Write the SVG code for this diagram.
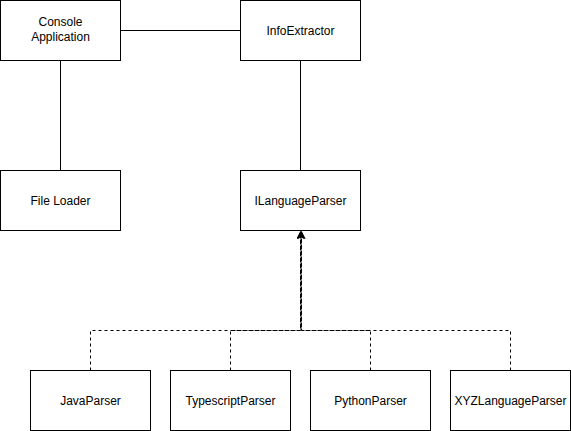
<svg xmlns="http://www.w3.org/2000/svg" width="571" height="431" viewBox="0 0 571 431">
<style>
.box{fill:#fff;stroke:#000;stroke-width:1}
.lbl{font-family:"Liberation Sans",Arial,sans-serif;font-size:12px;fill:#000;text-anchor:middle}
.solid{fill:none;stroke:#000;stroke-width:1}
.dash{fill:none;stroke:#000;stroke-width:1;stroke-dasharray:3 3}
</style>
<defs>
<marker id="arr" markerWidth="8" markerHeight="8" refX="7" refY="4" orient="auto" markerUnits="userSpaceOnUse">
<path d="M0,0 L8,4 L0,8 L2,4 Z" fill="#000"/>
</marker>
</defs>
<rect width="571" height="431" fill="#fff"/>
<g id="connectors">
<path class="solid" d="M120.5,30.5 L240.5,30.5"/>
<path class="solid" d="M60.5,60.5 L60.5,170.5"/>
<path class="solid" d="M300.5,60.5 L300.5,170.5"/>
<path class="dash" d="M90.5,370.5 L90.5,330.5 L300.5,330.5 L300.5,232" marker-end="url(#arr)"/>
<path class="dash" d="M230.5,370.5 L230.5,330.5 L300.5,330.5 L300.5,232" marker-end="url(#arr)"/>
<path class="dash" d="M370.5,370.5 L370.5,330.5 L301.5,330.5 L301.5,232" marker-end="url(#arr)"/>
<path class="dash" d="M510.5,370.5 L510.5,330.5 L301.5,330.5 L301.5,232" marker-end="url(#arr)"/>
</g>
<g id="console"><rect class="box" x="0.5" y="0.5" width="120" height="60"/><text class="lbl" x="60.5" y="26">Console</text><text class="lbl" x="60.5" y="41">Application</text></g>
<g id="infoextractor"><rect class="box" x="240.5" y="0.5" width="120" height="60"/><text class="lbl" x="300.5" y="35">InfoExtractor</text></g>
<g id="fileloader"><rect class="box" x="0.5" y="170.5" width="120" height="60"/><text class="lbl" x="60.5" y="205">File Loader</text></g>
<g id="ilanguageparser"><rect class="box" x="240.5" y="170.5" width="120" height="60"/><text class="lbl" x="300.5" y="205">ILanguageParser</text></g>
<g id="javaparser"><rect class="box" x="30.5" y="370.5" width="120" height="60"/><text class="lbl" x="90.5" y="405">JavaParser</text></g>
<g id="typescriptparser"><rect class="box" x="170.5" y="370.5" width="120" height="60"/><text class="lbl" x="230.5" y="405">TypescriptParser</text></g>
<g id="pythonparser"><rect class="box" x="310.5" y="370.5" width="120" height="60"/><text class="lbl" x="370.5" y="405">PythonParser</text></g>
<g id="xyzlanguageparser"><rect class="box" x="450.5" y="370.5" width="120" height="60"/><text class="lbl" x="510.5" y="405">XYZLanguageParser</text></g>
</svg>
